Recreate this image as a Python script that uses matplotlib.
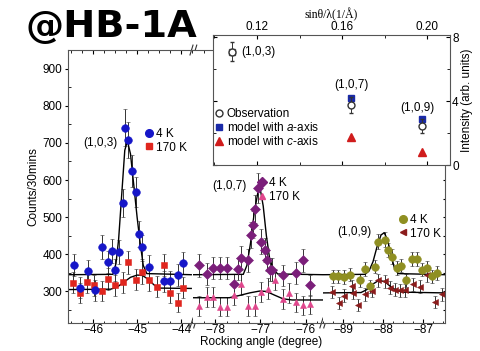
import matplotlib
matplotlib.use("Agg")
import matplotlib.pyplot as plt
from matplotlib.lines import Line2D
from matplotlib.ticker import MultipleLocator

plt.rcParams['font.family'] = ['Liberation Sans', 'DejaVu Sans']
plt.rcParams['mathtext.fontset'] = 'custom'
plt.rcParams['mathtext.rm'] = 'Liberation Sans'
plt.rcParams['mathtext.it'] = 'Liberation Sans:italic'

# (1,0,3) rocking scan
ang103_4k = [-46.43, -46.29, -46.12, -45.95, -45.80, -45.65, -45.57, -45.50, -45.42, -45.33, -45.28,
             -45.20, -45.11, -45.02, -44.95, -44.88, -44.72, -44.40, -44.25, -44.08, -43.95]
cnt103_4k = [372, 310, 354, 303, 420, 380, 408, 357, 406, 538, 741,
             707, 624, 568, 455, 419, 367, 327, 327, 345, 377]
err103_4k = [30, 28, 30, 28, 32, 30, 32, 30, 32, 38, 50,
             48, 42, 40, 35, 33, 30, 28, 28, 30, 30]
ang103_170k = [-46.45, -46.30, -46.13, -45.97, -45.80, -45.65, -45.50, -45.33, -45.20,
               -45.03, -44.88, -44.73, -44.55, -44.40, -44.25, -44.08, -43.95]
cnt103_170k = [323, 297, 325, 316, 301, 334, 316, 325, 378, 332, 351, 330, 313, 372, 296, 270, 310]
err103_170k = [28, 27, 28, 28, 27, 29, 28, 28, 31, 29, 30, 29, 28, 30, 27, 26, 28]
fit103_4k_x = [-46.57, -45.55, -45.48, -45.42, -45.35, -45.28, -45.22, -45.15, -45.07, -45.00,
               -44.93, -44.86, -44.78, -43.77]
fit103_4k_y = [345, 346, 375, 440, 560, 680, 705, 670, 580, 500, 430, 370, 348, 345]
fit103_170k_x = [-46.57, -45.60, -45.45, -45.30, -45.15, -45.00, -44.88, -44.75, -44.62, -44.50, -43.77]
fit103_170k_y = [305, 306, 312, 325, 338, 344, 343, 333, 318, 309, 308]

# (1,0,7) rocking scan
ang107_4k = [-78.36, -78.19, -78.04, -77.89, -77.74, -77.58, -77.50, -77.43, -77.28, -77.22, -77.16,
             -77.12, -77.06, -76.98, -76.91, -76.86, -76.80, -76.74, -76.50, -76.21, -76.06, -75.91]
cnt107_4k = [370, 347, 363, 363, 363, 319, 361, 390, 384, 452, 480,
             522, 578, 434, 412, 385, 359, 359, 343, 350, 384, 316]
err107_4k = [30, 29, 30, 30, 30, 28, 30, 31, 31, 34, 36,
             38, 40, 34, 33, 31, 30, 30, 29, 30, 31, 28]
ang107_170k = [-78.36, -78.19, -78.04, -77.89, -77.74, -77.58, -77.43, -77.28, -77.13,
               -76.98, -76.84, -76.67, -76.50, -76.36, -76.21, -76.06, -75.91]
cnt107_170k = [261, 285, 285, 259, 259, 290, 319, 261, 261, 299, 307, 332, 279, 297, 271, 263, 265]
err107_170k = [26, 27, 27, 26, 26, 27, 28, 26, 26, 27, 28, 29, 27, 27, 26, 26, 26]
fit107_4k_x = [-78.51, -77.38, -77.30, -77.22, -77.14, -77.06, -77.00, -76.94, -76.87, -76.80,
               -76.72, -76.62, -75.62]
fit107_4k_y = [345, 346, 370, 430, 510, 565, 572, 530, 450, 390, 360, 347, 345]
fit107_170k_x = [-78.51, -77.69, -77.47, -77.24, -77.02, -76.87, -76.69, -76.50, -76.30, -75.62]
fit107_170k_y = [283, 283, 289, 296, 301, 300, 290, 280, 277, 277]

# (1,0,9) rocking scan
ang109_4k = [-89.24, -89.12, -88.97, -88.83, -88.58, -88.45, -88.33, -88.20, -88.12, -87.95, -87.87,
             -87.78, -87.66, -87.55, -87.43, -87.28, -87.16, -87.03, -86.91, -86.78, -86.66]
cnt109_4k = [341, 341, 339, 345, 330, 360, 314, 367, 434, 439, 412,
             394, 363, 369, 330, 387, 387, 359, 363, 341, 350]
err109_4k = [18, 18, 18, 18, 17, 18, 17, 18, 20, 20, 19,
             19, 18, 18, 17, 19, 19, 18, 18, 18, 18]
ang109_170k = [-89.28, -89.09, -88.97, -88.78, -88.74, -88.62, -88.45, -88.28, -88.12, -87.95,
               -87.83, -87.70, -87.58, -87.45, -87.24, -87.08, -86.91, -86.70, -86.53]
cnt109_170k = [298, 270, 289, 314, 297, 263, 292, 301, 330, 327, 310, 305, 303, 303, 319, 313, 343, 271, 292]
err109_170k = [17, 16, 17, 17, 17, 16, 17, 17, 18, 18, 17, 17, 17, 17, 17, 17, 18, 16, 17]
fit109_4k_x = [-89.5, -88.45, -88.35, -88.25, -88.15, -88.05, -87.97, -87.89, -87.80, -87.72,
               -87.62, -86.45]
fit109_4k_y = [345, 346, 355, 380, 420, 452, 458, 440, 400, 365, 348, 345]
fit109_170k_x = [-89.5, -88.55, -88.40, -88.25, -88.10, -87.95, -87.80, -87.65, -87.50, -86.45]
fit109_170k_y = [296, 297, 305, 320, 330, 326, 312, 302, 298, 296]

# inset: intensity vs sin(theta)/lambda
q_obs = [0.1082, 0.1642, 0.1976]
i_obs = [7.1, 3.75, 2.45]
i_obs_err = [0.6, 0.5, 0.45]
i_model_a = [4.19, 2.88]
i_model_c = [1.75, 0.8]
q_model = [0.1642, 0.1976]
refl_labels = ['(1,0,3)', '(1,0,7)', '(1,0,9)']

fig = plt.figure(figsize=(4.8, 3.51), dpi=100)

bottom, top = 0.0798, 0.8575
x0, x1, x2, x3 = 68 / 480, 193 / 480, 323 / 480, 445 / 480
ax1 = fig.add_axes([x0, bottom, x1 - x0, top - bottom])
ax2 = fig.add_axes([x1, bottom, x2 - x1, top - bottom])
ax3 = fig.add_axes([x2, bottom, x3 - x2, top - bottom])

ebkw = dict(ls='none', ecolor='#333333', elinewidth=0.7, capsize=1.5, capthick=0.7,
            markeredgewidth=0.4)

def scan(ax, a4, c4, e4, col4, m4, a170, c170, e170, col170, m170, f4x, f4y, f170x, f170y):
    ax.errorbar(a170, c170, yerr=e170, marker=m170, color=col170, mec=col170, ms=5, **ebkw)
    ax.errorbar(a4, c4, yerr=e4, marker=m4, color=col4, mec=col4, ms=5.5, **ebkw)
    ax.plot(f4x, f4y, color='black', lw=1.0)
    ax.plot(f170x, f170y, color='black', lw=1.0)

scan(ax1, ang103_4k, cnt103_4k, err103_4k, '#1616c8', 'o',
     ang103_170k, cnt103_170k, err103_170k, '#e0261e', 's',
     fit103_4k_x, fit103_4k_y, fit103_170k_x, fit103_170k_y)
scan(ax2, ang107_4k, cnt107_4k, err107_4k, '#7b1f7a', 'D',
     ang107_170k, cnt107_170k, err107_170k, '#e0468c', '^',
     fit107_4k_x, fit107_4k_y, fit107_170k_x, fit107_170k_y)
scan(ax3, ang109_4k, cnt109_4k, err109_4k, '#8f8f22', 'o',
     ang109_170k, cnt109_170k, err109_170k, '#8b1c1c', '<',
     fit109_4k_x, fit109_4k_y, fit109_170k_x, fit109_170k_y)

ax1.set_xlim(-46.57, -43.73)
ax2.set_xlim(-78.49, -75.62)
ax3.set_xlim(-89.5, -86.45)
for ax in (ax1, ax2, ax3):
    ax.set_ylim(215, 950)
    ax.xaxis.set_major_locator(MultipleLocator(1))
    ax.xaxis.set_minor_locator(MultipleLocator(0.25))
    ax.tick_params(axis='x', which='both', direction='in', top=True, labelsize=8.5, pad=1)
    ax.tick_params(axis='x', which='major', length=3)
    ax.tick_params(axis='x', which='minor', length=1.8)
    for s in ax.spines.values():
        s.set_color('#555555')
        s.set_linewidth(0.8)
ax1.spines['right'].set_visible(False)
ax2.spines['left'].set_visible(False)
ax2.spines['right'].set_visible(False)
ax3.spines['left'].set_visible(False)
ax1.yaxis.set_minor_locator(MultipleLocator(50))
ax1.set_yticks([300, 400, 500, 600, 700, 800, 900])
ax1.tick_params(axis='y', which='major', direction='out', length=2.5, labelsize=8.5, pad=1.5)
ax1.tick_params(axis='y', which='minor', direction='in', length=1.8)
ax2.tick_params(axis='y', left=False, labelleft=False)
ax3.tick_params(axis='y', which='both', left=False, labelleft=False, right=True,
                direction='in', length=1.8)
ax3.yaxis.set_major_locator(MultipleLocator(50))
ax1.set_ylabel('Counts/30mins', fontsize=8.5, labelpad=2)
fig.text((x0 + x3) / 2 + 0.01, 1 - 336 / 351, 'Rocking angle (degree)', ha='center', va='top',
         fontsize=8.5)

# axis break marks
for ax in (ax1, ax2):
    for ypos in (0.0, 1.0):
        for dx in (-0.012, 0.018):
            ax.plot([1.0 + dx - 0.012, 1.0 + dx + 0.012], [ypos - 0.018, ypos + 0.018],
                    transform=ax.transAxes, color='#333333', lw=0.8, clip_on=False)

# peak labels and legends
ax1.text(-45.84, 700, refl_labels[0], ha='center', va='center', fontsize=8.5)
ax2.text(-77.69, 585, refl_labels[1], ha='center', va='center', fontsize=8.5)
ax3.text(-88.72, 460, refl_labels[2], ha='center', va='center', fontsize=8.5)

def leg(ax, col4, m4, col170, m170, anchor):
    h = [Line2D([], [], ls='none', marker=m4, color=col4, ms=5.5),
         Line2D([], [], ls='none', marker=m170, color=col170, ms=5)]
    ax.legend(h, ['4 K', '170 K'], loc='upper left', bbox_to_anchor=anchor, frameon=False,
              fontsize=8.5, handlelength=0.6, handletextpad=0.3, labelspacing=0.15,
              borderpad=0, borderaxespad=0)

leg(ax1, '#1616c8', 'o', '#e0261e', 's', (0.62, 0.715))
leg(ax2, '#7b1f7a', 'D', '#e0468c', '^', (0.50, 0.535))
leg(ax3, '#8f8f22', 'o', '#8b1c1c', '<', (0.625, 0.40))

# inset
axi = fig.add_axes([213 / 480, 1 - 165 / 351, 237 / 480, 130 / 351])
axi.set_facecolor('white')
obs = axi.errorbar(q_obs, i_obs, yerr=i_obs_err, ls='none', marker='o', mfc='white', mec='#333333',
                   ecolor='#333333', ms=5, elinewidth=0.7, capsize=1.5, zorder=2)
ma, = axi.plot(q_model, i_model_a, ls='none', marker='s', color='#1a2aa8', ms=5, zorder=1)
mc, = axi.plot(q_model, i_model_c, ls='none', marker='^', color='#d01c1c', ms=5.5)
axi.plot(q_obs[:1], i_obs[:1], ls='none', marker='s', mfc='none', mec='#555555', ms=4)
axi.text(q_obs[0] + 0.0042, i_obs[0], refl_labels[0], ha='left', va='center', fontsize=8.5)
axi.text(q_obs[1], 5.0, refl_labels[1], ha='center', va='center', fontsize=8.5)
axi.text(q_obs[2] - 0.002, 3.55, refl_labels[2], ha='center', va='center', fontsize=8.5)
axi.set_xlim(0.0993, 0.2108)
axi.set_ylim(0, 8.15)
axi.xaxis.tick_top()
axi.xaxis.set_label_position('top')
axi.yaxis.tick_right()
axi.yaxis.set_label_position('right')
axi.set_xticks([0.12, 0.16, 0.20])
axi.set_xticklabels(['0.12', '0.16', '0.20'])
axi.xaxis.set_minor_locator(MultipleLocator(0.02))
axi.set_yticks([0, 4, 8])
axi.yaxis.set_minor_locator(MultipleLocator(2))
axi.tick_params(which='both', direction='in', top=True, bottom=True, left=True, right=True,
                labelsize=8.5, pad=1.5)
axi.tick_params(which='major', length=3)
axi.tick_params(which='minor', length=2)
for s in axi.spines.values():
    s.set_color('#555555')
    s.set_linewidth(0.8)
axi.set_xlabel('sinθ/λ(1/Å)', fontsize=8.5, family=['Liberation Serif', 'DejaVu Serif'], labelpad=2)
axi.set_ylabel('Intensity (arb. units)', fontsize=8.5, labelpad=2)
obs_h = Line2D([], [], ls='none', marker='o', mfc='white', mec='#333333', ms=5)
axi.legend([obs_h, ma, mc], ['Observation', 'model with $a$-axis', 'model with $c$-axis'],
           loc='upper left', bbox_to_anchor=(0.01, 0.44), frameon=False, fontsize=8.5,
           handlelength=0.6, handletextpad=0.35, labelspacing=0.1, borderpad=0, borderaxespad=0)

fig.text(25 / 480, 1 - 27 / 351, '@HB-1A', fontsize=27.5, fontweight='bold', ha='left', va='center',
         family=['DejaVu Sans'])

fig.savefig('out.png', dpi=100)
